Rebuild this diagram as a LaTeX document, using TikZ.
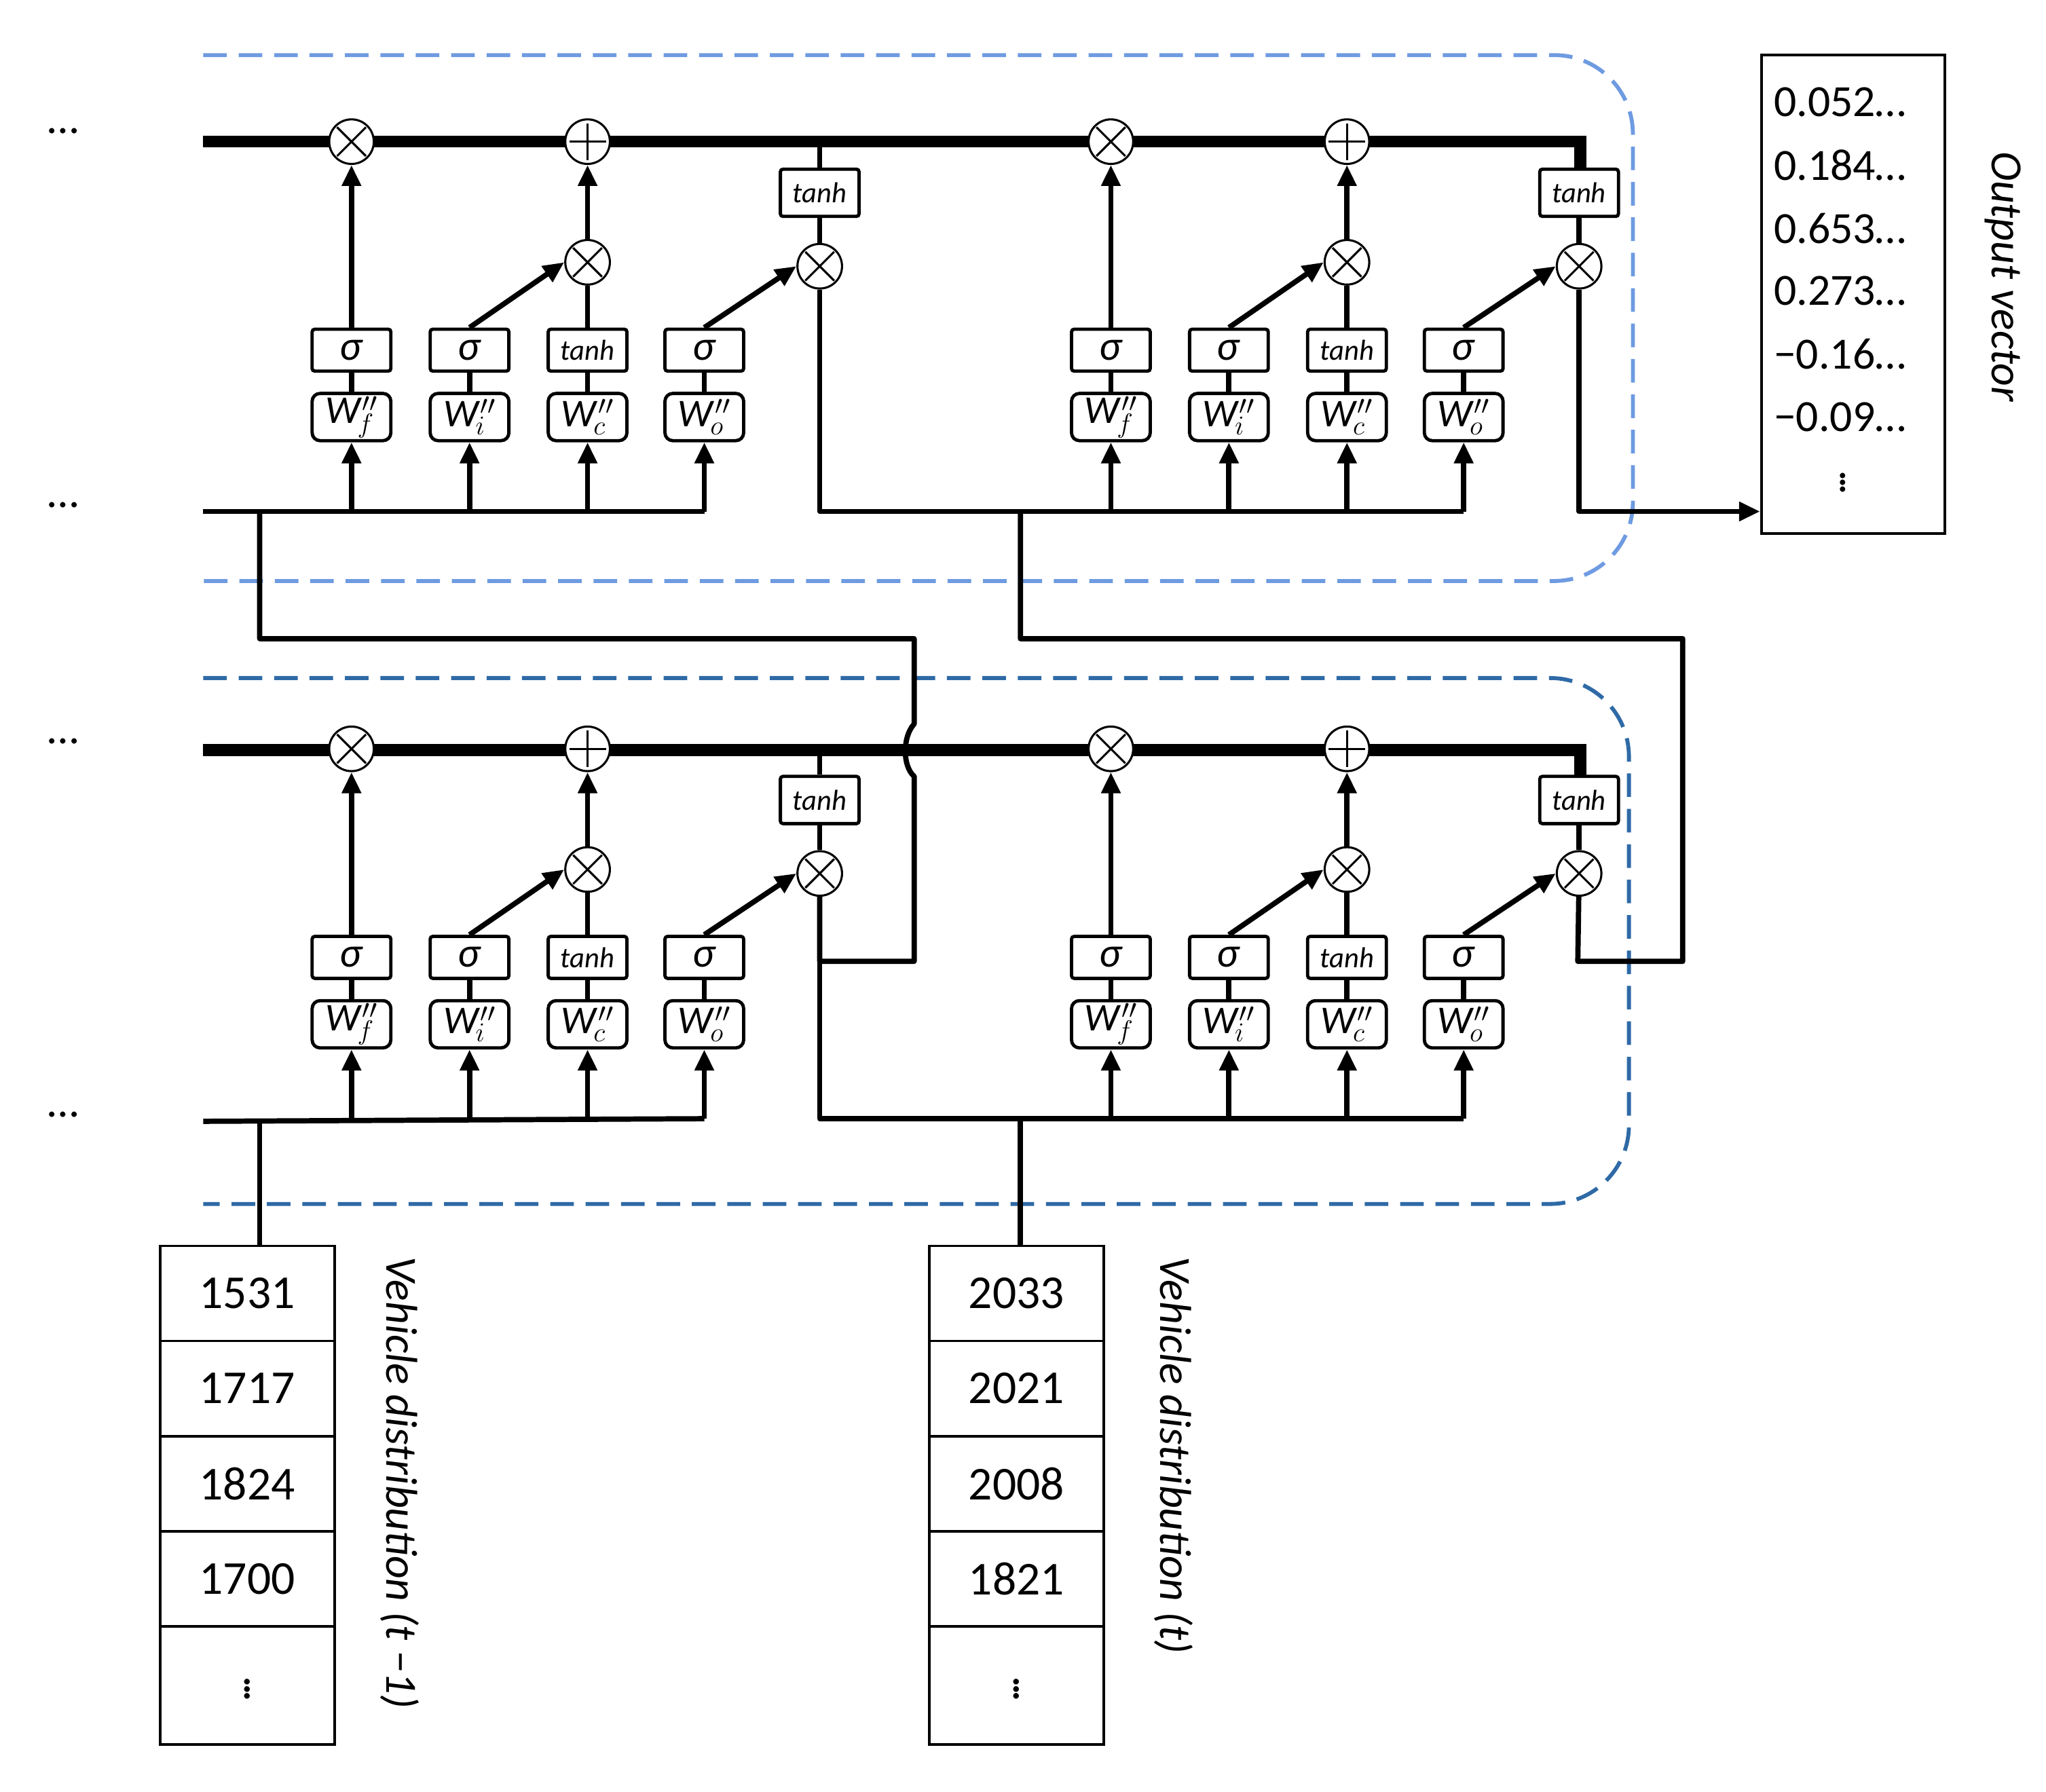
\documentclass[tikz,border=0pt]{standalone}
\usepackage{fontspec}
\setmainfont{Carlito}
\usetikzlibrary{arrows.meta}
\definecolor{lb}{HTML}{6E9BE1}
\definecolor{db}{HTML}{2F6AA6}
\newcommand{\lstmcell}[3]{%
\begin{scope}[shift={(#2,#3)}]
\node[opx] (#1xf) at (268,108) {};
\node[opp] (#1pc) at (448,108) {};
\node[opx] (#1xi) at (448,200) {};
\node[thb] (#1th) at (625,147) {\textit{tanh}};
\node[opx] (#1xo) at (625,203) {};
\coordinate (#1cb) at (625,108);
\node[gate] (#1sf) at (268,267) {\textit{σ}};
\node[gate] (#1si) at (358,267) {\textit{σ}};
\node[gate,font=\fontsize{22}{24}\selectfont] (#1sc) at (448,267) {\textit{tanh}};
\node[gate] (#1so) at (537,267) {\textit{σ}};
\node[wbox] (#1Wf) at (268,318) {\textit{W}$_{\!f}^{\prime\prime}$};
\node[wbox] (#1Wi) at (358,318) {\textit{W}$_{\!i}^{\prime\prime}$};
\node[wbox] (#1Wc) at (448,318) {\textit{W}$_{\!c}^{\prime\prime}$};
\node[wbox] (#1Wo) at (537,318) {\textit{W}$_{\!o}^{\prime\prime}$};
\coordinate (#1hf) at (268,390);
\coordinate (#1hi) at (358,390);
\coordinate (#1hc) at (448,390);
\coordinate (#1ho) at (537,390);
\draw[arr] (#1sf) -- (#1xf);
\draw[arr] (#1si.north) -- (#1xi.west);
\draw[conn] (#1sc) -- (#1xi);
\draw[arr] (#1xi) -- (#1pc);
\draw[arr] (#1so.north) -- (#1xo.west);
\draw[conn] (#1th) -- (#1xo);
\draw[conn] (#1cb) -- (#1th);
\foreach \g in {f,i,c,o}{
  \draw[conn] (#1W\g) -- (#1s\g);
  \draw[arr] (#1h\g) -- (#1W\g);
}
\end{scope}}
\begin{document}
\begin{tikzpicture}[x=1pt,y=-1pt,
  conn/.style={line width=4pt,line join=round},
  arr/.style={conn,-{Triangle[length=16pt,width=14pt]}},
  cell/.style={line width=9pt,line join=miter},
  opx/.style={circle,draw,line width=1.6pt,fill=white,minimum size=34pt,inner sep=0pt,
    path picture={\draw[line width=1.6pt,shift={(path picture bounding box.center)}] (-11,-11)--(11,11) (-11,11)--(11,-11);}},
  opp/.style={circle,draw,line width=1.6pt,fill=white,minimum size=34pt,inner sep=0pt,
    path picture={\draw[line width=1.6pt,shift={(path picture bounding box.center)}] (-14,0)--(14,0) (0,-14)--(0,14);}},
  gate/.style={draw,line width=2.5pt,fill=white,minimum width=60pt,minimum height=32pt,inner sep=0pt,rounded corners=2pt,font=\fontsize{32}{34}\selectfont},
  thb/.style={draw,line width=2.5pt,fill=white,minimum width=60pt,minimum height=36pt,inner sep=0pt,rounded corners=2pt,font=\fontsize{22}{24}\selectfont},
  wbox/.style={draw,line width=2.5pt,fill=white,minimum width=60pt,minimum height=36pt,inner sep=0pt,rounded corners=6pt,font=\fontsize{30}{32}\selectfont},
  num/.style={draw,line width=2pt,minimum width=133pt,minimum height=72.5pt,inner sep=0pt,font=\fontsize{36}{40}\selectfont},
  val/.style={font=\fontsize{34}{38}\selectfont},
  lab/.style={rotate=-90,anchor=west,font=\fontsize{34}{38}\selectfont\itshape},
  dots/.style={font=\fontsize{34}{38}\selectfont}]
\useasboundingbox (0,0) rectangle (1560,1366);
% dashed layer frames
\draw[lb,line width=3pt,dash pattern=on 18pt off 9pt,rounded corners=60pt] (155,42) -| (1245,443) -- (155,443);
\draw[db,line width=3pt,dash pattern=on 18pt off 9pt,rounded corners=60pt] (155,517) -| (1242,918) -- (155,918);
% cell state lines
\draw[cell] (155,108) -- (1205,108) -- (1205,128);
\draw[cell] (155,572) -- (1205,572) -- (1205,592);
% left dots
\node[dots] (d1) at (48,100) {…};
\node[dots] (d2) at (48,385) {…};
\node[dots] (d3) at (48,565) {…};
\node[dots] (d4) at (48,850) {…};
% cells
\lstmcell{A}{0}{0}
\lstmcell{B}{579}{0}
\lstmcell{C}{0}{463}
\lstmcell{D}{579}{463}
% hidden lines
\draw[conn] (155,390) -- (Aho);
\draw[conn] (Axo) |- (Bho);
\draw[conn] (155,855) -- (Cho);
\draw[conn] (Cxo) |- (Dho);
% output
\node[draw,line width=2pt,minimum width=140pt,minimum height=365pt,inner sep=0pt] (out) at (1413,224.5) {};
\draw[arr] (Bxo) |- (out.west |- 0,390);
\node[val,anchor=west] (v1) at (1349,78) {0.052…};
\node[val,anchor=west] (v2) at (1349,126) {0.184…};
\node[val,anchor=west] (v3) at (1349,174) {0.653…};
\node[val,anchor=west] (v4) at (1349,222) {0.273…};
\node[val,anchor=west] (v5) at (1349,270) {−0.16…};
\node[val,anchor=west] (v6) at (1349,318) {−0.09…};
\node[dots] (od) at (1405,365) {$\vdots$};
\node[lab,anchor=west] (ol) at (1527,112) {Output vector};
% cross-layer connections
\draw[conn] (Cxo) -- (625,733) -- (697,733) -- (697,592) .. controls (688,584) and (688,562) .. (697,552) -- (697,487) -- (198,487) -- (198,390);
\draw[conn] (Dxo) -- (1203,733) -- (1283,733) -- (1283,487) -- (778,487) -- (778,390);
% inputs
\node[num] (pa) at (188.5,986.25) {1531};
\node[num] (pb) at (188.5,1058.75) {1717};
\node[num] (pc) at (188.5,1131.25) {1824};
\node[num] (pd) at (188.5,1203.75) {1700};
\node[num,minimum height=90pt] (pe) at (188.5,1285) {$\vdots$};
\node[num] (qa) at (775,986.25) {2033};
\node[num] (qb) at (775,1058.75) {2021};
\node[num] (qc) at (775,1131.25) {2008};
\node[num] (qd) at (775,1203.75) {1821};
\node[num,minimum height=90pt] (qe) at (775,1285) {$\vdots$};
\draw[conn] (pa.north -| 198,0) -- (198,855);
\draw[conn] (qa.north -| 778,0) -- (778,855);
\node[lab] (l1) at (305,955) {Vehicle distribution (\textit{t} −1)};
\node[lab] (l2) at (895,955) {Vehicle distribution (\textit{t})};
\end{tikzpicture}
\end{document}
